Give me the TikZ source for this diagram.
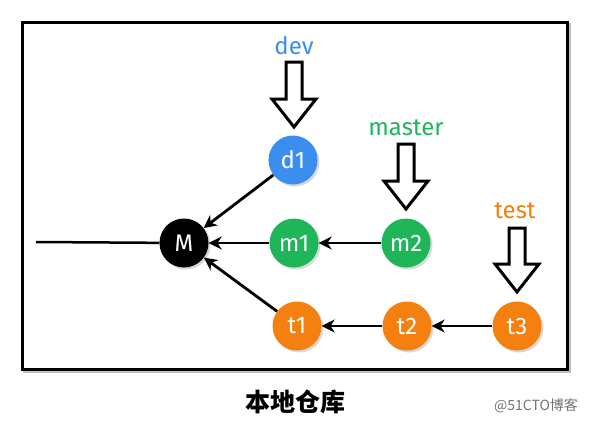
\documentclass[tikz,border=0pt]{standalone}
\usepackage{fontspec}
\setmainfont{Fira Sans}
\newfontfamily\cjkfont{Noto Sans CJK SC}
\usetikzlibrary{shadows, arrows.meta}
\definecolor{devblue}{HTML}{3A8EF0}
\definecolor{mastergreen}{HTML}{1FB65A}
\definecolor{testorange}{HTML}{F3800F}

\begin{document}
\begin{tikzpicture}
  [x=1pt, y=-1pt,
   commit/.style={circle,fill=#1,minimum size=49pt,inner sep=0pt,text=white,
     font=\fontsize{24}{24}\selectfont,
     drop shadow={opacity=0.3,shadow xshift=2pt,shadow yshift=-2pt}},
   branch label/.style={text=#1,font=\fontsize{24}{24}\selectfont},
   parent/.style={-{Stealth[length=13pt,width=13pt]},line width=2.8pt}]

  \useasboundingbox (0,0) rectangle (590,426);

  % repository frame
  \draw [line width=3pt, black!25] (24,24) rectangle (569,371);
  \draw [line width=3pt, fill=white] (22,22) rectangle (567,369);

  % commits
  \node [commit = black] (M) at (184,243) {M};
  \node [commit = devblue] (d1) at (293,160) {d1};
  \node [commit = mastergreen] (m1) at (294,243) {m1};
  \node [commit = mastergreen] (m2) at (406,243) {m2};
  \node [commit = testorange] (t1) at (297,326) {t1};
  \node [commit = testorange] (t2) at (407,326) {t2};
  \node [commit = testorange] (t3) at (517,326) {t3};

  \coordinate (origin) at (36,242);
  \draw [line width=2.5pt] (origin) -- (M);

  \draw [parent] (d1) -- (M);
  \draw [parent] (m1) -- (M);
  \draw [parent] (t1) -- (M);
  \draw [parent] (m2) -- (m1);
  \draw [parent] (t2) -- (t1);
  \draw [parent] (t3) -- (t2);

  % branch pointers
  \node [branch label = devblue] (dev) at (294,46) {dev};
  \node [branch label = mastergreen] (master) at (406,128) {master};
  \node [branch label = testorange] (test) at (515,211) {test};

  \foreach \x/\ya/\yb in {294/62/127, 406/144/209, 517/228/292}
    \draw [line width=3pt, line join=miter, fill=white]
      (\x-8,\ya) -- (\x+8,\ya) -- (\x+8,\yb-28) -- (\x+22,\yb-28) --
      (\x,\yb) -- (\x-22,\yb-28) -- (\x-8,\yb-28) -- cycle;

  % captions
  \node [font=\cjkfont\bfseries\fontsize{25}{25}\selectfont] (title) at (295,402) {本地仓库};
  \node [font=\cjkfont\fontsize{14}{14}\selectfont, text=black!55] (mark) at (536,406) {@51CTO博客};

\end{tikzpicture}
\end{document}
